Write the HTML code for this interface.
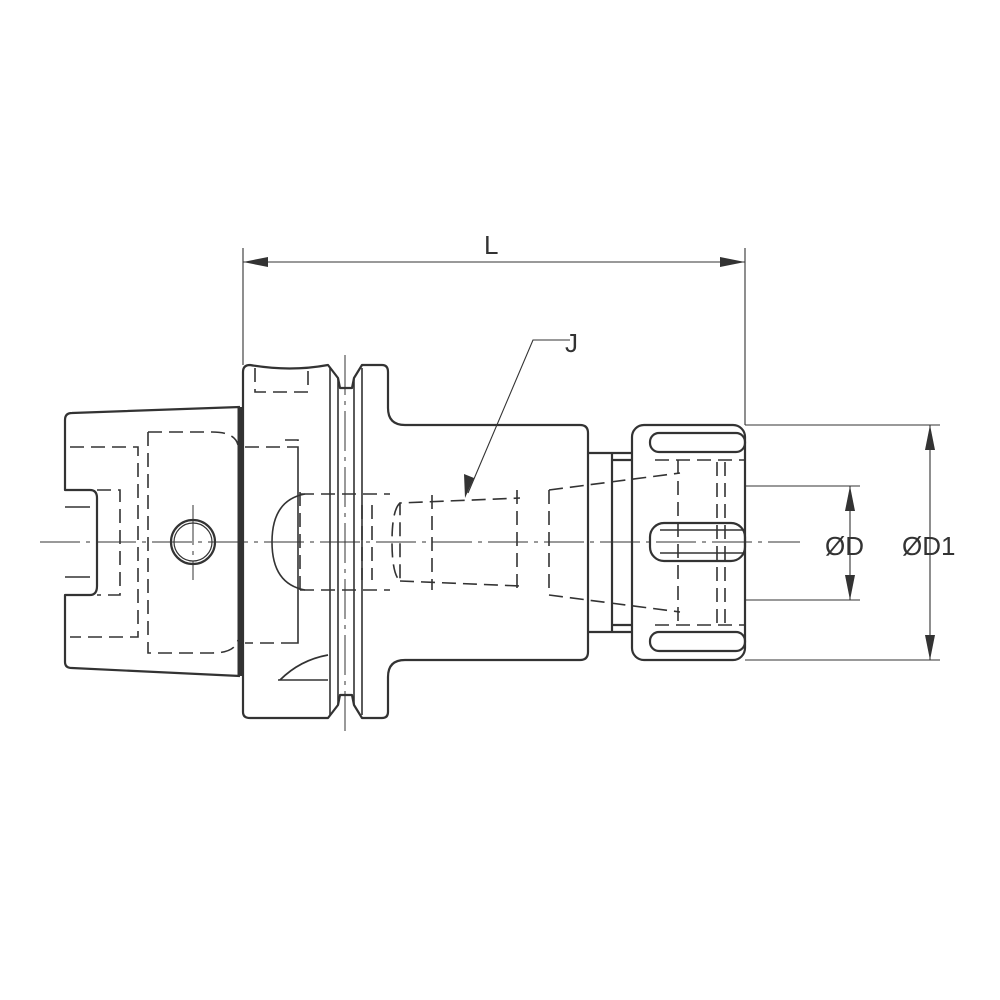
<!DOCTYPE html>
<html><head><style>html,body{margin:0;padding:0;background:#fff}svg{display:block}</style></head>
<body>
<svg width="1000" height="1000" viewBox="0 0 1000 1000" xmlns="http://www.w3.org/2000/svg" style="font-family:'Liberation Sans',sans-serif">
<g fill="none" stroke="#333" stroke-width="2.2" stroke-linejoin="round">
<path d="M240,407 L72,413 Q65,413 65,420 L65,490 L90,490 Q97,490 97,498 L97,586 Q97,595 90,595 L65,595 L65,662 Q65,668 72,668 L240,676"/>
<path d="M65,507 L90,507 M65,577 L90,577" stroke-width="1.6"/>
<path d="M240,407 L240,676" stroke-width="5"/>
<circle cx="193" cy="542" r="22"/>
<circle cx="193" cy="542" r="19" stroke-width="1.2"/>
<path d="M243,372 Q243,365 250,365 Q290,372 328,365 L338,378 L340,388 L352,388 L354,378 L362,365 L382,365 Q388,365 388,372 L388,408 Q388,425 405,425 L580,425 Q588,425 588,433 L588,652 Q588,660 580,660 L405,660 Q388,660 388,677 L388,712 Q388,718 382,718 L362,718 L354,705 L352,695 L340,695 L338,705 L328,718 L250,718 Q243,718 243,712 Z"/>
<path d="M330,368 L330,715 M338,378 L338,705 M354,378 L354,705 M362,368 L362,715" stroke-width="1.6"/>
<path d="M280,680 Q300,660 328,655" stroke-width="1.8"/>
<path d="M278,680 L328,680" stroke-width="1.6"/>
<path d="M305,494 Q272,500 272,542 Q272,584 305,590" stroke-width="1.6"/>
<path d="M588,453 L632,453 M588,632 L632,632 M612,453 L612,632 M612,460 L632,460 M612,625 L632,625"/>
<rect x="632" y="425" width="113" height="235" rx="12"/>
<rect x="650" y="433" width="95" height="19" rx="9"/>
<rect x="650" y="632" width="95" height="19" rx="9"/>
<rect x="650" y="523" width="95" height="38" rx="14"/>
<path d="M660,530 L745,530 M660,553 L745,553" stroke-width="1.4"/>
</g>
<g fill="none" stroke="#333" stroke-width="1.6" stroke-dasharray="14,7">
<path d="M70,447 L138,447 L138,637 L70,637"/>
<path d="M97,490 L120,490 L120,595 L97,595"/>
<path d="M148,432 L148,653 L212,653 Q235,653 238,640 M148,432 L212,432 Q235,432 238,445"/>
<path d="M245,447 L298,447 L298,643 L245,643 M285,440 L298,440 L298,643 L285,643"/>
<path d="M255,368 L255,392 L308,392 L308,368"/>
<path d="M300,492 L300,592 M300,494 L390,494 M300,590 L390,590"/>
<path d="M362,505 L362,580 M372,505 L372,580"/>
<path d="M400,503 Q392,510 392,542 Q392,574 400,581 L400,503 L520,498 M400,581 L520,586"/>
<path d="M432,495 L432,590 M517,490 L517,595 M549,490 L549,595"/>
<path d="M549,490 L680,473 M549,595 L680,612"/>
<path d="M678,460 L678,625 M717,462 L717,623 M725,462 L725,623"/>
<path d="M655,460 L745,460 M655,625 L745,625"/>
</g>
<g stroke="#333" stroke-width="1" fill="none" stroke-dasharray="40,6,4,6">
<path d="M40,542 L800,542"/>
<path d="M345,355 L345,732"/>
<path d="M193,505 L193,580"/>
</g>
<g stroke="#333" stroke-width="1.1" fill="none">
<path d="M243,248 L243,365 M745,248 L745,425"/>
<path d="M243,262 L745,262"/>
<path d="M745,425 L940,425 M745,660 L940,660 M930,425 L930,660"/>
<path d="M745,486 L860,486 M745,600 L860,600 M850,486 L850,600"/>
<path d="M570,340 L533,340 L468,493"/>
</g>
<g fill="#333">
<path d="M243,262 L268,257 L268,267 Z"/>
<path d="M745,262 L720,257 L720,267 Z"/>
<path d="M930,425 L925,450 L935,450 Z"/>
<path d="M930,660 L925,635 L935,635 Z"/>
<path d="M850,486 L845,511 L855,511 Z"/>
<path d="M850,600 L845,575 L855,575 Z"/>
<path d="M465,498 L464,474 L474,478 Z"/>
</g>
<g fill="#333" font-size="26" style="font-family:'Liberation Sans',sans-serif">
<text x="484" y="254">L</text>
<text x="565" y="352">J</text>
<text x="825" y="555">ØD</text>
<text x="902" y="555">ØD1</text>
</g>
</svg>
</body></html>
